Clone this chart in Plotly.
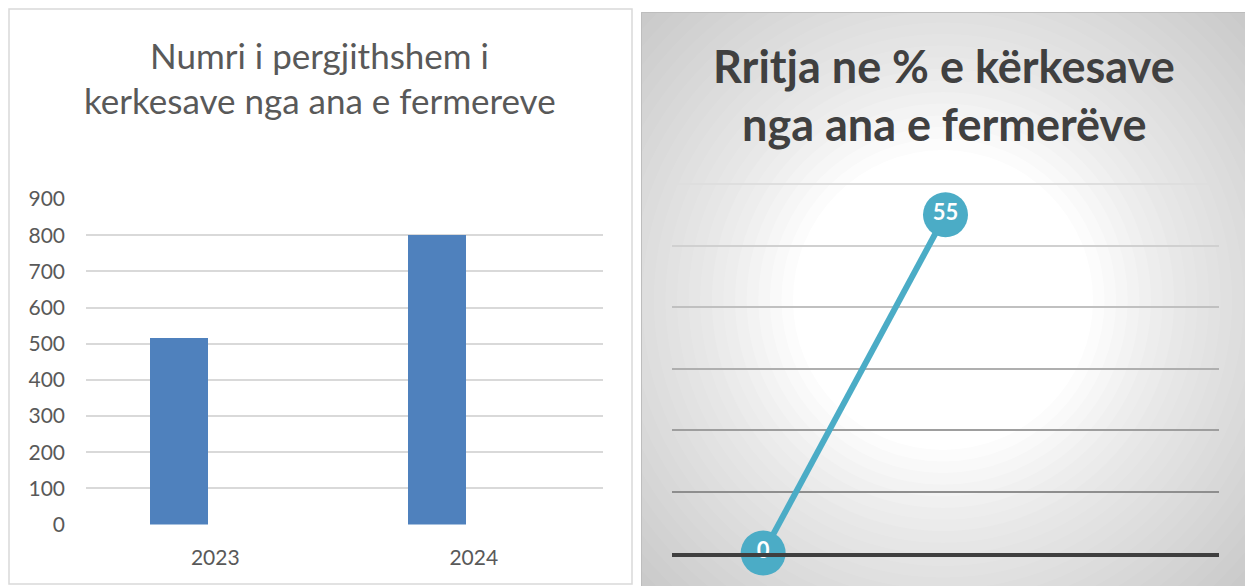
import plotly.graph_objects as go

# ---- data ----
years = ["2023", "2024"]
requests_total = [516, 800]
bar_ticks = [0, 100, 200, 300, 400, 500, 600, 700, 800, 900]

growth_x = [0, 1]
growth_values = [0, 55]
growth_labels = ["0", "55"]
growth_grid = [10, 20, 30, 40, 50, 60]
growth_grid_colors = ["#8e8e8e", "#9e9e9e", "#afafaf", "#c0c0c0", "#d0d0d0", "#dedede"]

title_left = ["Numri i pergjithshem i", "kerkesave nga ana e fermereve"]
title_right = ["Rritja ne % e kërkesave", "nga ana e fermerëve"]

W, H = 1245, 586


def px(x):
    return x / W


def py(y):
    return 1 - y / H


FONT = "Lato"
fig = go.Figure()

# ---- left bar chart ----
fig.add_trace(go.Bar(
    x=years, y=requests_total, marker=dict(color="#4f81bd", line=dict(width=0)),
    width=0.224, offset=-0.254, xaxis="x", yaxis="y", showlegend=False,
))

# right chart vertical geometry: 0 at y=553px, 60 at y=184px; range padded to 61
Y2_MAX = 61
y2_top_px = 553 - Y2_MAX * (553 - 184) / 60

# graded gridlines on the right chart via overlaying axes (empty carrier traces)
layout_extra = {}
for i, (v, c) in enumerate(zip(growth_grid, growth_grid_colors)):
    n = 3 + i
    fig.add_trace(go.Scatter(x=[None], y=[None], xaxis="x2", yaxis=f"y{n}",
                             mode="lines", showlegend=False, hoverinfo="skip"))
    layout_extra[f"yaxis{n}"] = dict(
        overlaying="y2", anchor="x2", range=[0, Y2_MAX], tickvals=[v],
        showgrid=True, gridcolor=c, gridwidth=1.5, zeroline=False,
        showticklabels=False, ticks="", showline=False,
    )

# ---- right line chart ----
fig.add_trace(go.Scatter(
    x=growth_x, y=growth_values, mode="lines+markers+text",
    text=growth_labels, textposition="middle center",
    textfont=dict(family=FONT, size=22, color="white", weight="bold"),
    line=dict(color="#4bacc6", width=6),
    marker=dict(size=45, color="#4bacc6", line=dict(width=0)),
    cliponaxis=False, xaxis="x2", yaxis="y2", showlegend=False,
))

layout = dict(
    width=W, height=H,
    margin=dict(l=0, r=0, t=0, b=0, autoexpand=False),
    paper_bgcolor="white",
    plot_bgcolor="rgba(0,0,0,0)",
    bargap=0,
    xaxis=dict(
        domain=[px(86), px(603)], anchor="y", type="category", range=[-0.5, 1.5],
        showgrid=False, showline=False, zeroline=False,
        ticks="", ticklabelstandoff=18,
        tickfont=dict(family=FONT, size=21, color="#595959"),
    ),
    yaxis=dict(
        domain=[py(524.5), py(199)], anchor="x", range=[0, 900],
        tickvals=bar_ticks, showgrid=True, gridcolor="#d9d9d9", gridwidth=1.5,
        zeroline=False, showline=False, ticks="", ticklabelstandoff=20,
        tickfont=dict(family=FONT, size=21, color="#595959"),
    ),
    xaxis2=dict(
        domain=[px(672), px(1219)], anchor="y2", range=[-0.5, 2.5],
        showgrid=False, zeroline=False, showticklabels=False, ticks="",
        showline=True, linecolor="#3f3f3f", linewidth=4,
    ),
    yaxis2=dict(
        domain=[py(553), py(y2_top_px)], anchor="x2", range=[0, Y2_MAX],
        showgrid=False, zeroline=False, showticklabels=False, ticks="",
    ),
)
layout.update(layout_extra)
fig.update_layout(**layout)

# ---- background: right panel radial gradient ----
shapes = []
shapes.append(dict(type="rect", xref="paper", yref="paper", layer="below",
                   x0=px(641), x1=px(1245), y0=py(586), y1=py(12),
                   fillcolor="#c4c4c4", line=dict(width=0)))
cx, cy = 943, 300
N = 26
r_out, r_in = 440, 150
for k in range(1, N + 1):
    r = r_out - (r_out - r_in) * (k - 1) / (N - 1)
    op = 1.0 / (N - k + 1)
    shapes.append(dict(type="circle", xref="paper", yref="paper", layer="below",
                       x0=px(cx - r), x1=px(cx + r), y0=py(cy + r), y1=py(cy - r),
                       fillcolor="white", opacity=op, line=dict(width=0)))
# cover spill outside right panel
shapes.append(dict(type="rect", xref="paper", yref="paper", layer="below",
                   x0=0, x1=px(641), y0=0, y1=1, fillcolor="white", line=dict(width=0)))
shapes.append(dict(type="rect", xref="paper", yref="paper", layer="below",
                   x0=px(641), x1=1, y0=py(12), y1=1, fillcolor="white", line=dict(width=0)))
# right panel border
shapes.append(dict(type="rect", xref="paper", yref="paper", layer="below",
                   x0=px(641.5), x1=px(1246), y0=py(587), y1=py(12.5),
                   fillcolor="rgba(0,0,0,0)", line=dict(width=1, color="#bdbdbd")))
# left panel border
shapes.append(dict(type="rect", xref="paper", yref="paper", layer="below",
                   x0=px(9), x1=px(632), y0=py(584), y1=py(9),
                   fillcolor="rgba(0,0,0,0)", line=dict(width=1.5, color="#d9d9d9")))
fig.update_layout(shapes=shapes)

# ---- titles ----
ann = []
for txt, yc in zip(title_left, [55, 100]):
    ann.append(dict(text=txt, xref="paper", yref="paper", x=px(320), y=py(yc),
                    xanchor="center", yanchor="middle", showarrow=False,
                    font=dict(family=FONT, size=35, color="#595959")))
for txt, yc in zip(title_right, [66, 124]):
    ann.append(dict(text=txt, xref="paper", yref="paper", x=px(944), y=py(yc),
                    xanchor="center", yanchor="middle", showarrow=False,
                    font=dict(family=FONT, size=45, color="#404040", weight="bold")))
fig.update_layout(annotations=ann)

fig.write_html(
    "out.html",
    config={"displayModeBar": False},
    post_script="document.body.style.margin='0';document.body.style.overflow='hidden';",
)
